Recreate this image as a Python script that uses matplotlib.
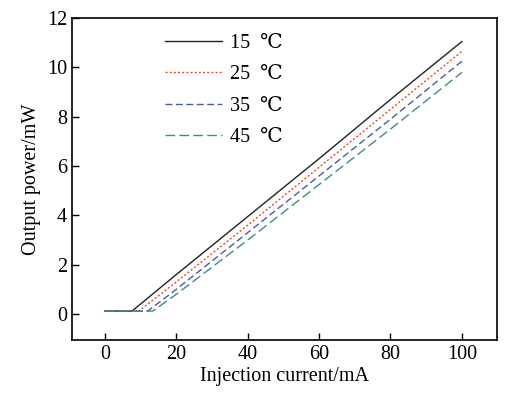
import numpy as np
import matplotlib.pyplot as plt

plt.rcParams['font.family'] = ['Liberation Serif', 'DejaVu Serif']

# injection current (mA) and output power (mW)
cur_15 = [0, 7.6, 20, 40, 60, 80, 100]
pow_15 = [0.12, 0.12, 1.6, 3.95, 6.3, 8.7, 11.05]
cur_25 = [0, 9.5, 20, 40, 60, 80, 100]
pow_25 = [0.12, 0.12, 1.3, 3.6, 5.95, 8.3, 10.65]
cur_35 = [0, 12.0, 20, 40, 60, 80, 100]
pow_35 = [0.12, 0.12, 1.0, 3.3, 5.6, 7.9, 10.25]
cur_45 = [0, 13.4, 20, 40, 60, 80, 100]
pow_45 = [0.12, 0.12, 0.8, 3.0, 5.25, 7.5, 9.8]

labels = ['15  ℃', '25  ℃', '35  ℃', '45  ℃']
colors = ['#222222', '#e0502a', '#4a5aa8', '#3d8c8a']
styles = ['-', (0, (1.5, 1.5)), (0, (5, 2.5)), (0, (7, 3))]


def plot_curves():
    fig = plt.figure(figsize=(5.16, 3.93), dpi=100)
    ax = fig.add_axes([0.1395, 0.135, 0.8235, 0.819])
    series = [(cur_15, pow_15), (cur_25, pow_25), (cur_35, pow_35), (cur_45, pow_45)]
    for (x, y), lab, c, ls in zip(series, labels, colors, styles):
        ax.plot(x, y, color=c, linestyle=ls, linewidth=1.0, label=lab)

    ax.set_xlim(-9.2, 109.8)
    ax.set_ylim(-1.05, 12)
    ax.set_xticks([0, 20, 40, 60, 80, 100])
    ax.set_yticks([0, 2, 4, 6, 8, 10, 12])
    ax.tick_params(direction='in', length=5, labelsize=14.5, width=1)
    for s in ax.spines.values():
        s.set_linewidth(1.2)
    ax.set_xlabel('Injection current/mA', fontsize=14.5, labelpad=2)
    ax.set_ylabel('Output power/mW', fontsize=14.5, labelpad=4)
    ax.legend(loc='upper left', bbox_to_anchor=(0.219, 0.95), frameon=False,
              borderpad=0, borderaxespad=0,
              fontsize=14.5, handlelength=2.85, labelspacing=0.6, handletextpad=0.4)
    fig.savefig('out.png', dpi=100)


if __name__ == '__main__':
    plot_curves()
